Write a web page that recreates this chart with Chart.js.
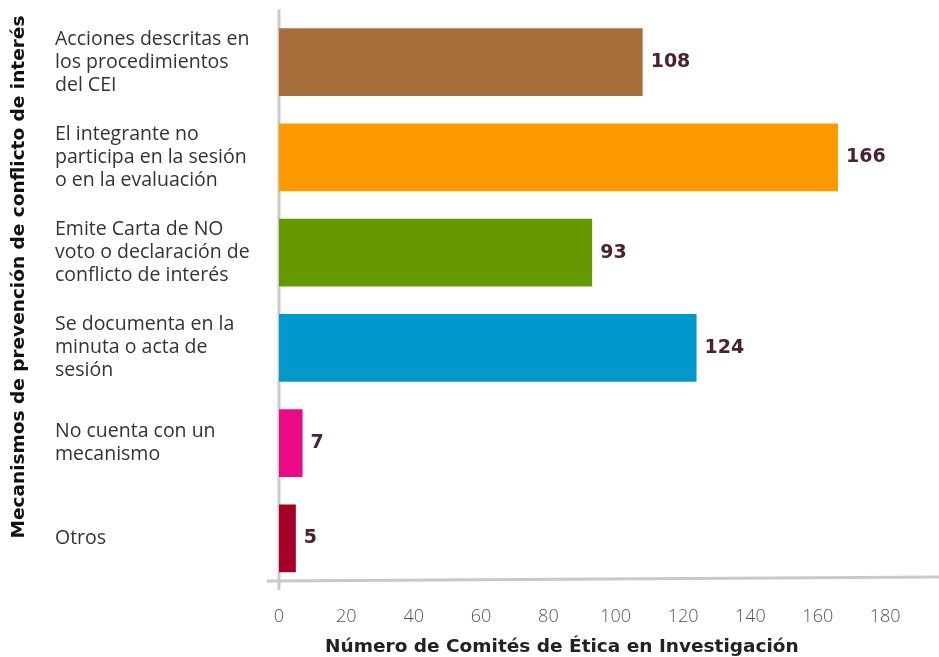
<!DOCTYPE html>
<html><head><meta charset="utf-8">
<script src="https://cdn.jsdelivr.net/npm/chart.js@4/dist/chart.umd.min.js"></script>
<style>html,body{margin:0;padding:0;background:#fff}#wrap{width:939px;height:657px}</style>
</head><body><div id="wrap"><canvas id="c"></canvas></div>
<script>
const categories = [
  ["Acciones descritas en","los procedimientos","del CEI"],
  ["El integrante no","participa en la sesión","o en la evaluación"],
  ["Emite Carta de NO","voto o declaración de","conflicto de interés"],
  ["Se documenta en la","minuta o acta de","sesión"],
  ["No cuenta con un","mecanismo"],
  ["Otros"]
];
const values = [108, 166, 93, 124, 7, 5];
const barColors = ["#A66F3B", "#FF9900", "#669900", "#0099CC", "#EB0A85", "#A50025"];
const xTitle = "Número de Comités de Ética en Investigación";
const yTitle = "Mecanismos de prevención de conflicto de interés";

const FONT = "'DejaVu Sans', 'Open Sans', sans-serif";
const TFONT = "'Open Sans', sans-serif";

const decor = {
  id: 'decor',
  beforeDatasetsDraw(chart) {
    const {ctx, chartArea: a} = chart;
    ctx.save();
    ctx.strokeStyle = '#c9c9c9';
    ctx.lineWidth = 3;
    ctx.beginPath();
    ctx.moveTo(a.left, a.top - 5);
    ctx.lineTo(a.left, a.bottom + 4);
    ctx.stroke();
    ctx.beginPath();
    ctx.moveTo(a.left - 12, a.bottom - 5);
    ctx.lineTo(a.right, a.bottom - 9);
    ctx.stroke();
    ctx.restore();
  },
  afterDatasetsDraw(chart) {
    const {ctx} = chart;
    const meta = chart.getDatasetMeta(0);
    ctx.save();
    ctx.font = "bold 19px " + FONT;
    ctx.fillStyle = '#4A2234';
    ctx.textAlign = 'left';
    ctx.textBaseline = 'middle';
    meta.data.forEach((bar, i) => {
      ctx.fillText(String(values[i]), bar.x + 8, bar.y);
    });
    // y title
    ctx.font = "bold 18.5px " + FONT;
    ctx.fillStyle = '#111';
    ctx.textAlign = 'center';
    ctx.translate(19, 277);
    ctx.rotate(-Math.PI / 2);
    ctx.fillText(yTitle, 0, 0);
    ctx.restore();
    // x title
    ctx.save();
    ctx.font = "bold 18.5px " + FONT;
    ctx.fillStyle = '#222';
    ctx.textAlign = 'center';
    ctx.textBaseline = 'middle';
    const xs = chart.scales.x;
    ctx.fillText(xTitle, xs.getPixelForValue(84), 647);
    ctx.restore();
  }
};

new Chart(document.getElementById('c'), {
  type: 'bar',
  data: {
    labels: categories,
    datasets: [{
      data: values,
      backgroundColor: barColors,
      borderWidth: 0,
      categoryPercentage: 1,
      barPercentage: 0.71
    }]
  },
  options: {
    indexAxis: 'y',
    responsive: true,
    maintainAspectRatio: false,
    animation: false,
    layout: { padding: { left: 55, top: 13, right: 0, bottom: 0 } },
    plugins: { legend: { display: false }, tooltip: { enabled: false } },
    scales: {
      x: {
        min: 0, max: 196,
        grid: { display: false, drawTicks: false },
        border: { display: false },
        ticks: { stepSize: 20, padding: 20, color: '#555', font: { family: TFONT, size: 18, weight: '300' } },
        afterBuildTicks(axis) { axis.ticks = axis.ticks.filter(t => t.value % 20 === 0); },
        afterFit(axis) { axis.height = 71; }
      },
      y: {
        grid: { display: false, drawTicks: false },
        border: { display: false },
        ticks: { crossAlign: 'far', color: '#333', font: { family: TFONT, size: 19.5, lineHeight: 1.18 } },
        afterFit(axis) { axis.width = 224; }
      }
    }
  },
  plugins: [decor]
});
</script>
</body></html>
